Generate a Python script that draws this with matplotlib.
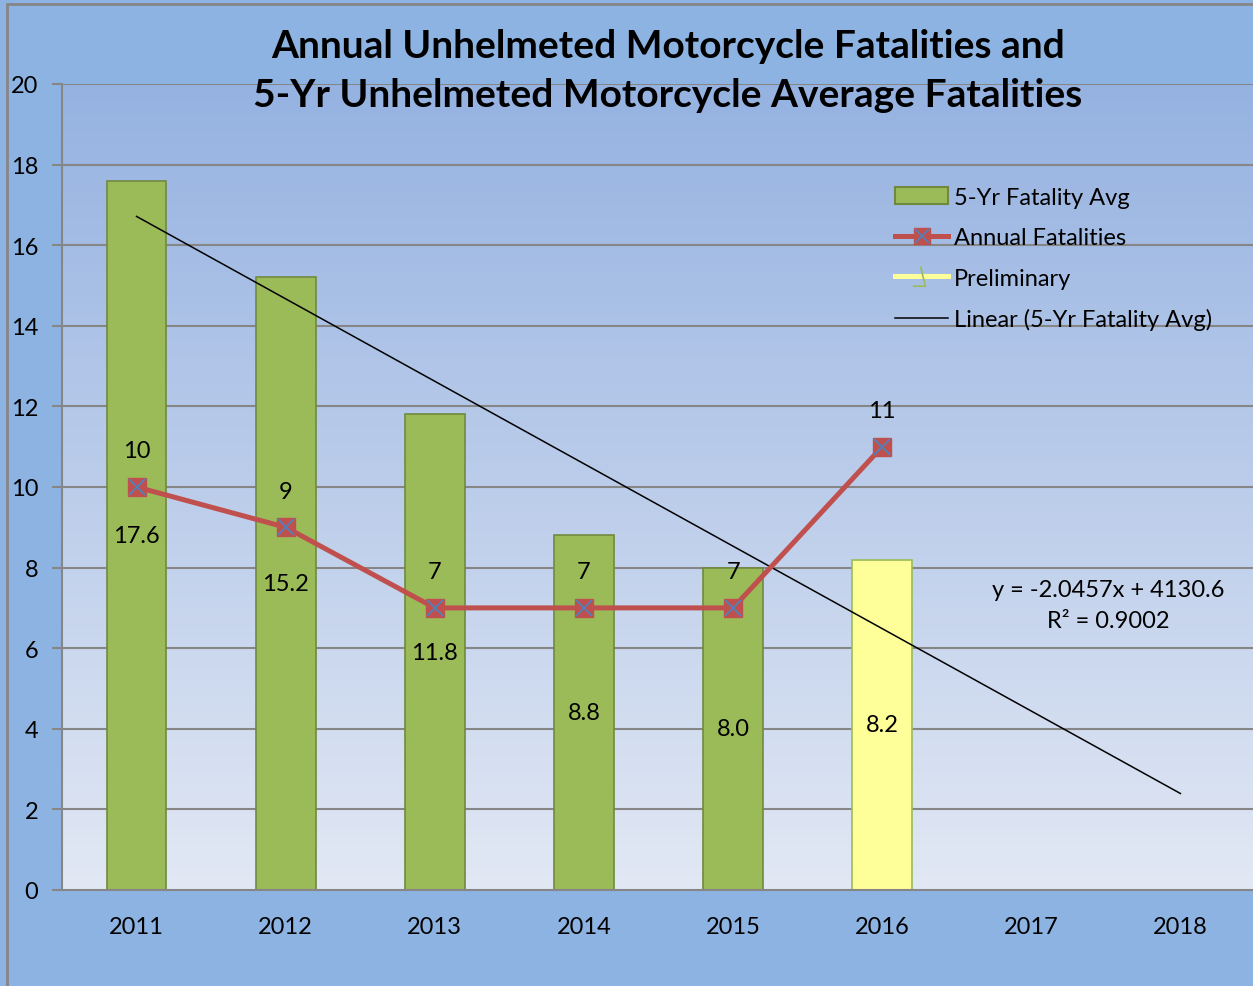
import numpy as np
import matplotlib
matplotlib.use("Agg")
import matplotlib.pyplot as plt
from matplotlib.lines import Line2D
from matplotlib.patches import Patch, Rectangle
from matplotlib.path import Path

plt.rcParams['font.family'] = ['Lato', 'DejaVu Sans']

years = [2011, 2012, 2013, 2014, 2015, 2016, 2017, 2018]
avg_years = [2011, 2012, 2013, 2014, 2015, 2016]
avg_values = [17.6, 15.2, 11.8, 8.8, 8.0, 8.2]
annual_years = [2011, 2012, 2013, 2014, 2015, 2016]
annual_values = [10, 9, 7, 7, 7, 11]
avg_labels = ['17.6', '15.2', '11.8', '8.8', '8.0', '8.2']

green = '#9BBB59'
green_edge = '#71893F'
yellow = '#FFFF99'
red = '#C0504D'
blue = '#4F81BD'
grid_c = '#868686'
fs = 17

fig = plt.figure(figsize=(12.53, 9.87), dpi=100)
fig.patch.set_facecolor('#8DB3E2')
fig.patches.append(Rectangle((7 / 1253, -0.1), 1.2, 1.1 - 5 / 987, transform=fig.transFigure,
                             fill=False, edgecolor=grid_c, linewidth=2, zorder=0))

ax = fig.add_axes([62 / 1253, 96 / 987, 1193 / 1253, 806 / 987])
ax.set_xlim(-0.5, 7.5)
ax.set_ylim(0, 20)

# gradient background of plot area
grad = np.linspace(0, 1, 256).reshape(-1, 1)
top = np.array([0x95, 0xB2, 0xE1]) / 255
bot = np.array([0xE2, 0xE8, 0xF4]) / 255
img = top * (1 - grad)[:, :, None] + bot * grad[:, :, None]
ax.imshow(img, extent=(-0.5, 7.5, 0, 20), aspect='auto', zorder=0, origin='upper')

for y in range(2, 21, 2):
    ax.axhline(y, color=grid_c, linewidth=1.5, zorder=1)

xpos = {yr: i for i, yr in enumerate(years)}
bx = [xpos[y] for y in avg_years]
colors = [green] * 5 + [yellow]
edges = [green_edge] * 5 + [green]
ax.bar(bx, avg_values, width=0.4, color=colors, edgecolor=edges, linewidth=1.2, zorder=2)
for x, v, lab in zip(bx, avg_values, avg_labels):
    ax.text(x, v / 2, lab, ha='center', va='center', fontsize=fs, zorder=5)

# linear trend of 5-yr average
coef = np.polyfit(avg_years, avg_values, 1)
tx = np.array([years[0], years[-1]])
ax.plot([xpos[years[0]], xpos[years[-1]]], np.polyval(coef, tx), color='black', linewidth=1.1, zorder=3)

lx = [xpos[y] for y in annual_years]
ax.plot(lx, annual_values, color=red, linewidth=3.6, zorder=4,
        marker='s', markersize=13, markerfacecolor=red, markeredgecolor=red)
ax.plot(lx, annual_values, linestyle='none', marker='x', markersize=11, markeredgecolor=blue,
        markeredgewidth=1.3, zorder=4.5)
for x, v in zip(lx, annual_values):
    ax.annotate(str(v), (x, v), xytext=(0, 26), textcoords='offset points', ha='center', va='center',
                fontsize=fs, zorder=5)

ax.text(6.515, 7.07, 'y = -2.0457x + 4130.6\nR² = 0.9002', ha='center', va='center',
        fontsize=fs, linespacing=1.6, zorder=5)

ax.set_xticks(range(len(years)))
ax.set_xticklabels([str(y) for y in years], fontsize=fs)
ax.set_yticks(range(0, 21, 2))
ax.tick_params(axis='y', labelsize=fs, length=7, width=1.5, color=grid_c, pad=10)
ax.tick_params(axis='x', length=0, pad=19)
for s in ['top', 'right']:
    ax.spines[s].set_visible(False)
for s in ['left', 'bottom']:
    ax.spines[s].set_color(grid_c)
    ax.spines[s].set_linewidth(1.5)

fig.text(668 / 1253, 1 - 71 / 987,
         'Annual Unhelmeted Motorcycle Fatalities and\n5-Yr Unhelmeted Motorcycle Average Fatalities',
         ha='center', va='center', fontsize=28, fontweight='bold', linespacing=1.45)

tick_mark = Path([(-0.2, 1.0), (0.3, -1.0), (-1.0, -1.0)], [Path.MOVETO, Path.LINETO, Path.LINETO])
handles = [
    Patch(facecolor=green, edgecolor=green_edge, linewidth=1.5),
    (Line2D([], [], color=red, linewidth=3.6, marker='s', markersize=12, markerfacecolor=red,
            markeredgecolor=red),
     Line2D([], [], linestyle='none', marker='x', markersize=10, markeredgecolor=blue,
            markeredgewidth=1.2)),
    (Line2D([], [], color=yellow, linewidth=3.6),
     Line2D([], [], linestyle='none', marker=tick_mark, markersize=14, markerfacecolor='none',
            markeredgecolor=green, markeredgewidth=1.2)),
    Line2D([], [], color='black', linewidth=1.1),
]
labels = ['5-Yr Fatality Avg', 'Annual Fatalities', 'Preliminary', 'Linear (5-Yr Fatality Avg)']
fig.legend(handles, labels, loc='upper left', bbox_to_anchor=(895 / 1253, 1 - 188 / 987),
           frameon=False, fontsize=fs, handlelength=2.25, handletextpad=0.25, labelspacing=0.82,
           borderaxespad=0, borderpad=0)

fig.savefig('out.png', dpi=100, facecolor=fig.get_facecolor())
